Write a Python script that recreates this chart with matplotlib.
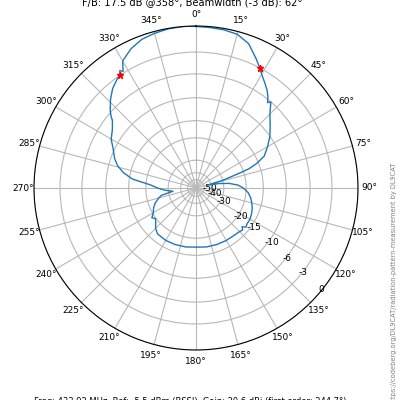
import numpy as np
import matplotlib
matplotlib.use("Agg")
import matplotlib.pyplot as plt

# measured pattern, bearing in degrees, level in dB (normalised to max)
angles = [0, 5, 10, 15, 20, 25, 28, 30, 33, 36, 38, 40, 41, 45, 50, 55, 60, 65, 68, 70,
          71, 74, 76, 79, 82, 86, 90, 95, 100, 105, 110, 115, 120, 125, 128, 130, 132,
          135, 140, 150, 160, 170, 178, 190, 200, 210, 220, 225, 230, 233, 236, 240, 245,
          250, 255, 258, 262, 266, 270, 274, 278, 282, 286, 290, 295, 300, 305, 309, 310,
          312, 316, 320, 324, 326, 327, 328, 330, 335, 340, 345, 350, 355, 358]
level_db = [-0.05, -0.1, -0.15, -0.3, -0.9, -2.2, -3.0, -3.6, -4.3, -5.0, -5.6, -6.4, -6.0,
            -7.5, -8.8, -10.0, -11.5, -13.1, -15.5, -18.0, -21.0, -30.0, -45.0, -33.0,
            -27.0, -23.0, -21.0, -19.3, -18.3, -17.6, -17.0, -16.6, -16.3, -16.3, -16.0,
            -16.9, -16.2, -16.5, -16.7, -16.8, -16.9, -17.0, -17.2, -17.0, -16.9, -16.8,
            -17.0, -17.8, -19.2, -19.8, -19.0, -20.3, -21.2, -22.5, -24.5, -26.0, -33.0,
            -28.0, -24.5, -21.5, -15.8, -13.3, -11.7, -10.7, -9.8, -8.6, -7.9, -7.0, -6.5,
            -5.8, -4.7, -3.8, -3.2, -3.0, -2.5, -2.8, -1.7, -0.9, -0.4, -0.2, -0.05, 0.0,
            0.0]

# -3 dB points
bw_angles = [326, 28]
bw_level = [-3.0, -3.0]

r_ticks = [0, -3, -6, -10, -15, -20, -30, -40, -50]
r_labels = ["0", "-3", "-6", "-10", "-15", "-20", "-30", "-40", "-50"]


# ARRL style log-periodic radial scale: 0.89 per 2 dB
def fwd(db):
    return 0.89 ** (-np.asarray(db, dtype=float) / 2)


def inv(r):
    r = np.clip(np.asarray(r, dtype=float), 1e-9, None)
    return -2 * np.log(r) / np.log(0.89)


fig = plt.figure(figsize=(4, 4), dpi=100)
ax = fig.add_axes([0.085, 0.125, 0.81, 0.81], projection="polar")
ax.set_theta_zero_location("N")
ax.set_theta_direction(-1)
ax.set_rscale("function", functions=(fwd, inv))

th = np.deg2rad(angles + [angles[0]])
ax.plot(th, level_db + [level_db[0]], color="#1f77b4", lw=1)
ax.plot(np.deg2rad(bw_angles), bw_level, "*", color="red", ms=5, lw=0)

ax.set_rlim(-100, 0)
ax.set_yticks(r_ticks)
ax.set_yticklabels(r_labels)
ax.set_rlabel_position(131)
ax.set_thetagrids(np.arange(0, 360, 15))
ax.tick_params(labelsize=6.5)
ax.tick_params(axis="x", pad=-2.5)
ax.grid(True, color="#b8b8b8", lw=0.8)

fig.text(0.48, 0.988, "F/B: 17.5 dB @358°, Beamwidth (-3 dB): 62°",
         ha="center", va="baseline", fontsize=7.1)
fig.text(0.475, -0.004, "Freq: 433.92 MHz, Ref: -5.5 dBm (RSSI), Gain: 20.6 dBi (first order: 244.7°)",
         ha="center", va="center", fontsize=6.0)
fig.text(0.985, 0.5925, "https://codeberg.org/DL9CAT/radiation-pattern-measurement by DL9CAT",
         rotation=90, ha="center", va="top", fontsize=4.8, color="gray")

fig.savefig("out.png", dpi=100)
